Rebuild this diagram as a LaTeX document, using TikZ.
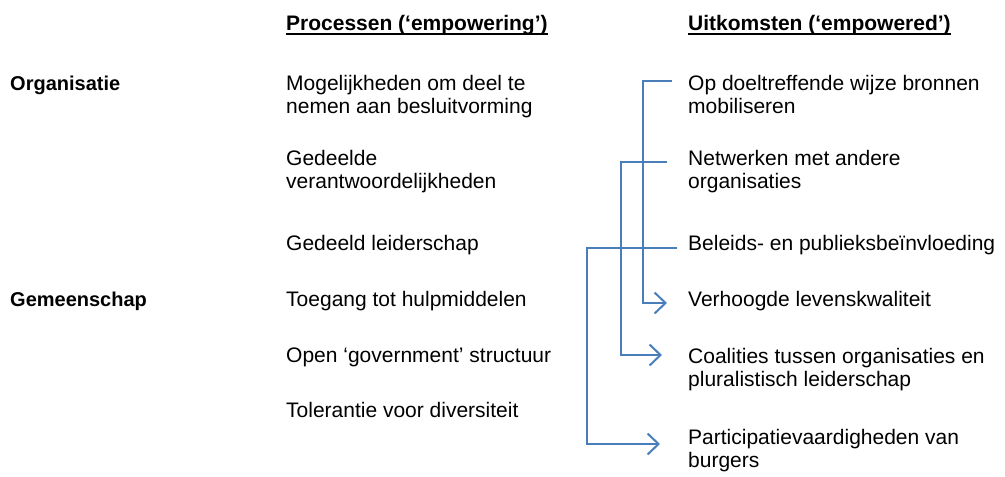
\documentclass[tikz,border=0pt]{standalone}
\usepackage{fontspec}
\setmainfont{Liberation Sans}
\usepackage{tikz}
\usetikzlibrary{arrows.meta, positioning}
\definecolor{linkblue}{RGB}{74, 126, 187}

\begin{document}
\begin{tikzpicture}[
    x=1pt, y=1pt,
    txt/.style={anchor=base west, inner sep=0pt, align=left, font=\fontsize{21}{23}\selectfont},
    group/.style={txt, font=\fontsize{20}{23}\selectfont\bfseries},
    head/.style={txt, font=\fontsize{21}{23}\selectfont\bfseries},
    uline/.style={line width=1.6pt},
    link/.style={draw=linkblue, line width=2pt, -{Straight Barb[length=11pt, width=21pt]}}
]
\useasboundingbox (0,0) rectangle (1005,-477);

% headings
\node[head] (hproc) at (286,-30) {Processen (‘empowering’)};
\node[head] (hout) at (688,-30) {Uitkomsten (‘empowered’)};
\draw[uline] ([yshift=-4pt]hproc.base west) -- ([yshift=-4pt]hproc.base east);
\draw[uline] ([yshift=-4pt]hout.base west) -- ([yshift=-4pt]hout.base east);

% levels
\node[group] (org) at (10,-90) {Organisatie};
\node[group] (gem) at (10,-306) {Gemeenschap};

% processes (two-line nodes sit on their last line)
\node[txt] (besl) at (286,-113) {Mogelijkheden om deel te\\nemen aan besluitvorming};
\node[txt] (verant) at (286,-188) {Gedeelde\\verantwoordelijkheden};
\node[txt] (leid) at (286,-250) {Gedeeld leiderschap};
\node[txt] (hulp) at (286,-306) {Toegang tot hulpmiddelen};
\node[txt] (gov) at (286,-362) {Open ‘government’ structuur};
\node[txt] (tol) at (286,-417) {Tolerantie voor diversiteit};

% outcomes
\node[txt] (bron) at (688,-113) {Op doeltreffende wijze bronnen\\mobiliseren};
\node[txt] (netw) at (688,-188) {Netwerken met andere\\organisaties};
\node[txt] (bel) at (688,-250) {Beleids- en publieksbeïnvloeding};
\node[txt] (verh) at (688,-306) {Verhoogde levenskwaliteit};
\node[txt] (coal) at (688,-386) {Coalities tussen organisaties en\\pluralistisch leiderschap};
\node[txt] (part) at (688,-467) {Participatievaardigheden van\\burgers};

% links
\draw[link] ([shift={(-16,32)}]bron.base west) -- ++(-29,0) |- ([shift={(-21,3)}]verh.base west);
\draw[link] ([shift={(-21,26)}]netw.base west) -- ++(-46,0) |- ([shift={(-26,31)}]coal.base west);
\draw[link] ([shift={(-11,2)}]bel.base west) -- ++(-90,0) |- ([shift={(-28,23)}]part.base west);

\end{tikzpicture}
\end{document}
